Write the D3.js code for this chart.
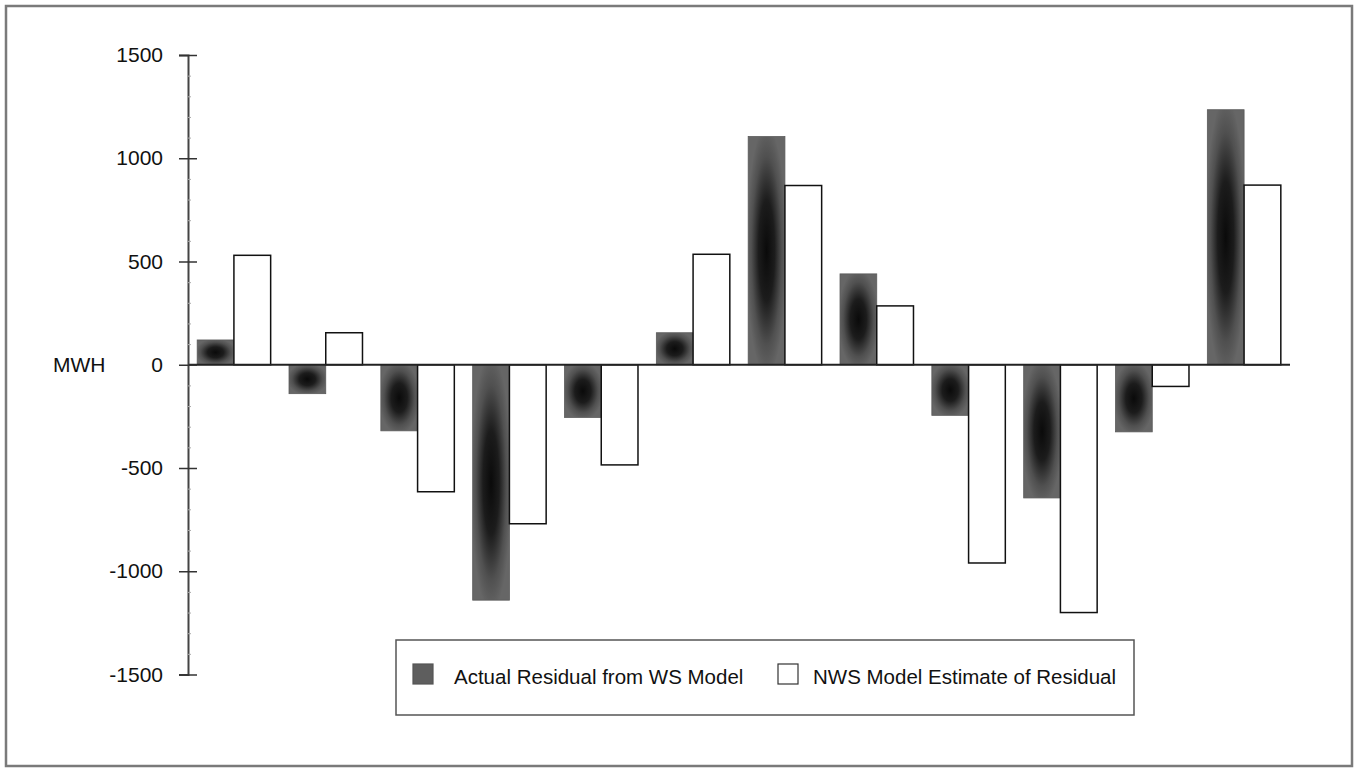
<!DOCTYPE html>
<html>
<head>
<meta charset="utf-8">
<script src="https://cdn.jsdelivr.net/npm/d3@7"></script>
<style>
  html, body { margin: 0; padding: 0; background: #fff; }
  svg { display: block; }
</style>
</head>
<body>
<svg id="chart" width="1356" height="768"></svg>
<script>
const categories = ["1","2","3","4","5","6","7","8","9","10","11","12"];
const seriesNames = ["Actual Residual from WS Model", "NWS Model Estimate of Residual"];
const actualResidual = [120, -140, -320, -1140, -255, 155, 1105, 440, -245, -645, -325, 1235];
const nwsEstimate = [530, 155, -615, -770, -485, 535, 868, 285, -960, -1200, -105, 870];
const yTicks = [1500, 1000, 500, 0, -500, -1000, -1500];
const yLabel = "MWH";

const svg = d3.select("#chart");
const font = "'Liberation Sans', Arial, Helvetica, sans-serif";

// defs: dark bar fill (mottled dark gray with black core)
const defs = svg.append("defs");
const grad = defs.append("radialGradient").attr("id", "darkFill")
  .attr("cx", "50%").attr("cy", "50%").attr("r", "55%");
grad.append("stop").attr("offset", "0%").attr("stop-color", "#0a0a0a");
grad.append("stop").attr("offset", "40%").attr("stop-color", "#1c1c1c");
grad.append("stop").attr("offset", "75%").attr("stop-color", "#505050");
grad.append("stop").attr("offset", "100%").attr("stop-color", "#666666");

// outer frame
svg.append("rect").attr("x", 6).attr("y", 6).attr("width", 1346).attr("height", 760)
  .attr("fill", "none").attr("stroke", "#7a7a7a").attr("stroke-width", 2.5);

const x0 = d3.scaleBand().domain(categories).range([188, 1290]).paddingInner(0.2).paddingOuter(0.1);
const x1 = d3.scaleBand().domain([0, 1]).range([0, x0.bandwidth()]).padding(0);
const y = d3.scaleLinear().domain([-1500, 1500]).range([674.5, 55]);

// bars
const data = categories.map((c, i) => ({ c, vals: [actualResidual[i], nwsEstimate[i]] }));
const g = svg.append("g");
const groups = g.selectAll("g.grp").data(data).join("g")
  .attr("transform", d => `translate(${x0(d.c)},0)`);
groups.selectAll("rect").data(d => d.vals.map((v, k) => ({ v, k }))).join("rect")
  .attr("x", d => x1(d.k))
  .attr("width", x1.bandwidth())
  .attr("y", d => y(Math.max(0, d.v)))
  .attr("height", d => Math.abs(y(d.v) - y(0)))
  .attr("fill", d => d.k === 0 ? "url(#darkFill)" : "#ffffff")
  .attr("stroke", d => d.k === 0 ? "#5a5a5a" : "#111")
  .attr("stroke-width", d => d.k === 0 ? 0.8 : 1.5);

// zero baseline
svg.append("line").attr("x1", 188).attr("x2", 1290).attr("y1", y(0)).attr("y2", y(0))
  .attr("stroke", "#222").attr("stroke-width", 2);

// y axis
const axisL = d3.axisLeft(y).tickValues(yTicks).tickSize(9).tickPadding(16)
  .tickFormat(d => String(d));
const ag = svg.append("g").attr("transform", "translate(188,0)").call(axisL);
ag.select(".domain").attr("stroke", "#444").attr("stroke-width", 2);
ag.selectAll(".tick line").attr("stroke", "#333").attr("stroke-width", 1.5);
ag.selectAll(".tick text").attr("font-family", font).attr("font-size", 21).attr("fill", "#111");
const axisR = d3.axisRight(y).tickValues(yTicks).tickSize(9).tickFormat("");
const ar = svg.append("g").attr("transform", "translate(188,0)").call(axisR);
ar.select(".domain").remove();
ar.selectAll(".tick line").attr("stroke", "#333").attr("stroke-width", 1.5);
// faint minor ticks
const minor = d3.range(-1500, 1501, 100).filter(v => v % 500 !== 0);
const axisM = d3.axisRight(y).tickValues(minor).tickSize(3).tickFormat("");
const am = svg.append("g").attr("transform", "translate(188,0)").call(axisM);
am.select(".domain").remove();
am.selectAll(".tick line").attr("stroke", "#aaa").attr("stroke-width", 1);

// y label
svg.append("text").attr("x", 53).attr("y", y(0)).attr("dy", "0.35em")
  .attr("font-family", font).attr("font-size", 21).attr("fill", "#111").text(yLabel);

// legend
const lg = svg.append("g");
lg.append("rect").attr("x", 396).attr("y", 640).attr("width", 738).attr("height", 75)
  .attr("fill", "#fff").attr("stroke", "#555").attr("stroke-width", 1.5);
const legendItems = [
  { name: seriesNames[0], sx: 413, tx: 454, fill: "#5e5e5e", stroke: "#555" },
  { name: seriesNames[1], sx: 778, tx: 813, fill: "#fff", stroke: "#333" }
];
legendItems.forEach(it => {
  lg.append("rect").attr("x", it.sx).attr("y", 664).attr("width", 20).attr("height", 20)
    .attr("fill", it.fill).attr("stroke", it.stroke).attr("stroke-width", 1.2);
  lg.append("text").attr("x", it.tx).attr("y", 684)
    .attr("font-family", font).attr("font-size", 20.5).attr("fill", "#111").text(it.name);
});
</script>
</body>
</html>
